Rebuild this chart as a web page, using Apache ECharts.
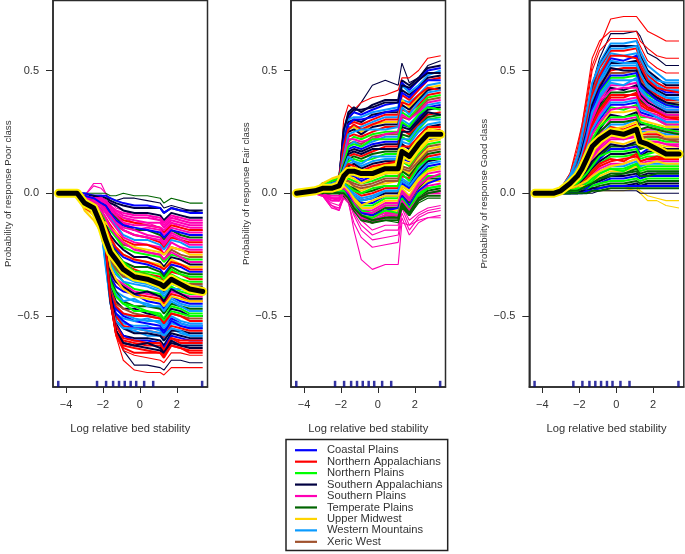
<!DOCTYPE html>
<html><head><meta charset="utf-8">
<script src="https://cdn.jsdelivr.net/npm/echarts@6/dist/echarts.min.js"></script>
<style>html,body{margin:0;background:#fff}#c{width:685px;height:554px;filter:blur(0.35px)}</style>
</head><body><div id="c"></div>
<script>
const regions=["Coastal Plains","Northern Appalachians","Northern Plains","Southern Appalachians","Southern Plains","Temperate Plains","Upper Midwest","Western Mountains","Xeric West"];
const regionColors=["#0000ff","#ff0000","#00ff00","#000040","#ff00b4","#006400","#ffd400","#0a9bff","#a0522d"];
const xGrid=[-4.4,-3.4,-3.0,-2.5,-2.1,-1.85,-1.6,-1.3,-0.9,-0.3,0.4,1.1,1.3,1.7,2.2,2.7,3.4];
const rugX=[-4.42,-2.32,-1.83,-1.45,-1.13,-0.82,-0.5,-0.2,0.23,0.72,3.37];
const yTicks=[-0.5,0,0.5];
const xTicks=[-4,-2,0,2];
const meanPoor=[0,0,-4,-6,-13,-19,-24,-27,-31,-34,-35,-37,-38,-35,-37,-39,-40];
const meanFair=[0,1,2,2,3,7,9,9,8,8,10,10,17,15,20,24,24];
const meanGood=[0,0,1,4,7,10,14,19,22,25,24,26,21,20,18,16,16];
// each row: region index, then value x100 at each xGrid point. First rows are drawn thin.
const poorThin=[
[1,0,0,-4,-6,-12,-22,-42,-58,-68,-72,-73,-73,-74,-71,-71,-71,-71],
[3,0,0,-4,-6,-11,-20,-38,-55,-64,-70,-70,-71,-72,-68,-68,-69,-69],
[1,0,0,-5,-7,-13,-24,-45,-58,-64,-66,-67,-68,-69,-65,-65,-66,-66],
[4,0,0,-1,4,4,0,-5,-8,-10,-12,-12,-14,-16,-12,-14,-15,-15],
[4,0,0,-1,3,2,0,-3,-6,-7,-9,-9,-11,-12,-9,-11,-12,-12],
[5,0,0,0,0,0,0,-1,-1,0,-1,-1,-2,-4,-2,-3,-4,-4],
[3,0,0,-1,-1,-1,-2,-2,-3,-2,-2,-3,-4,-6,-5,-6,-7,-8]
];
const poorMain=[
[3,0,0,-1,-1,-1,-2,-3,-4,-5,-6,-6,-6,-8,-6,-7,-7,-7],
[0,0,0,0,-1,-1,-1,-2,-3,-4,-5,-5,-6,-8,-6,-7,-8,-8],
[3,0,0,-1,-1,-2,-3,-4,-5,-7,-8,-8,-9,-11,-8,-9,-10,-10],
[4,0,0,-1,-2,-2,-3,-5,-7,-9,-10,-10,-11,-13,-10,-11,-12,-12],
[4,0,0,-1,-2,-3,-3,-6,-8,-10,-11,-12,-12,-14,-11,-12,-13,-13],
[1,0,0,-2,-2,-3,-4,-6,-9,-11,-12,-13,-14,-16,-13,-14,-15,-15],
[4,0,0,-1,-2,-3,-5,-7,-10,-12,-15,-14,-15,-17,-14,-15,-16,-16],
[5,0,0,-2,-3,-4,-5,-8,-10,-13,-15,-15,-17,-19,-15,-17,-18,-18],
[4,0,0,-2,-2,-4,-6,-9,-11,-14,-15,-17,-18,-20,-16,-18,-19,-19],
[1,0,0,-2,-3,-5,-7,-10,-13,-15,-17,-18,-20,-22,-18,-19,-20,-20],
[7,0,0,-3,-3,-5,-8,-10,-13,-17,-19,-19,-21,-23,-19,-20,-22,-22],
[4,0,0,-2,-4,-6,-8,-11,-14,-18,-20,-21,-22,-25,-20,-22,-23,-23],
[1,0,0,-3,-4,-7,-10,-13,-16,-19,-21,-21,-23,-25,-22,-23,-24,-24],
[8,0,0,-3,-4,-7,-11,-14,-17,-21,-22,-24,-25,-27,-23,-25,-26,-26],
[2,0,0,-3,-5,-8,-12,-15,-18,-22,-24,-25,-26,-28,-25,-26,-27,-27],
[3,0,0,-4,-5,-9,-13,-17,-20,-23,-26,-26,-28,-30,-26,-27,-29,-29],
[6,0,0,-6,-9,-14,-16,-19,-22,-25,-27,-28,-29,-31,-27,-29,-30,-30],
[0,0,0,-4,-6,-10,-15,-20,-23,-26,-28,-29,-31,-33,-29,-30,-32,-32],
[5,0,0,-5,-6,-11,-17,-21,-24,-28,-30,-30,-32,-34,-30,-32,-33,-33],
[1,0,0,-5,-7,-12,-18,-23,-26,-29,-31,-33,-34,-36,-32,-33,-35,-35],
[2,0,0,-4,-7,-13,-19,-25,-28,-31,-33,-33,-35,-37,-33,-35,-36,-36],
[3,0,0,-4,-6,-12,-20,-26,-30,-33,-35,-35,-38,-40,-35,-37,-38,-38],
[7,0,0,-4,-6,-14,-22,-28,-31,-34,-36,-37,-39,-41,-37,-38,-39,-39],
[2,0,0,-5,-7,-13,-23,-29,-32,-36,-39,-40,-41,-43,-38,-40,-41,-41],
[4,0,0,-4,-6,-14,-24,-31,-35,-37,-40,-41,-42,-44,-40,-41,-42,-42],
[1,0,0,-6,-8,-14,-25,-33,-36,-39,-41,-42,-43,-45,-41,-42,-44,-44],
[0,0,0,-4,-7,-15,-25,-34,-38,-40,-41,-44,-45,-47,-42,-44,-45,-45],
[7,0,0,-4,-7,-13,-26,-36,-40,-42,-44,-45,-47,-48,-43,-45,-46,-46],
[5,0,0,-5,-7,-14,-24,-35,-40,-44,-46,-46,-47,-49,-45,-46,-47,-47],
[2,0,0,-5,-6,-13,-26,-38,-42,-45,-46,-48,-49,-51,-46,-47,-49,-49],
[3,0,0,-4,-7,-14,-27,-38,-44,-47,-47,-49,-50,-52,-47,-48,-50,-50],
[8,0,0,-5,-8,-14,-26,-39,-45,-47,-49,-50,-51,-53,-49,-50,-51,-51],
[7,0,0,-5,-7,-13,-28,-40,-47,-49,-51,-52,-52,-54,-50,-52,-53,-53],
[0,0,0,-4,-6,-14,-24,-40,-47,-50,-52,-53,-54,-56,-51,-53,-54,-54],
[7,0,0,-4,-7,-15,-27,-42,-50,-53,-54,-54,-56,-58,-53,-54,-55,-55],
[1,0,0,-5,-7,-12,-24,-41,-50,-54,-55,-56,-57,-59,-54,-55,-56,-56],
[7,0,0,-5,-6,-14,-25,-44,-52,-55,-56,-58,-58,-60,-55,-57,-58,-58],
[3,0,0,-4,-7,-13,-24,-42,-53,-58,-59,-59,-60,-62,-57,-58,-59,-59],
[0,0,0,-4,-6,-12,-22,-43,-54,-58,-60,-60,-61,-63,-58,-59,-60,-60],
[1,0,0,-5,-7,-13,-24,-44,-56,-60,-61,-62,-62,-64,-59,-61,-61,-61],
[3,0,0,-4,-6,-12,-21,-42,-56,-61,-62,-63,-64,-66,-61,-62,-62,-62],
[1,0,0,-5,-6,-13,-23,-44,-57,-62,-63,-64,-65,-67,-62,-63,-64,-64],
// additional lines of the dense band
[4,0,0,-1,-2,-2,-4,-6,-7,-8,-9,-9,-10,-12,-9,-10,-11,-11],
[4,0,0,-2,-2,-3,-4,-6,-9,-12,-13,-13,-14,-15,-12,-13,-14,-14],
[0,0,0,-1,-2,-4,-5,-8,-11,-13,-14,-15,-16,-18,-15,-16,-17,-17],
[4,0,0,-3,-3,-5,-7,-9,-12,-15,-17,-18,-19,-21,-17,-19,-21,-21],
[6,0,0,-4,-7,-11,-12,-14,-16,-20,-22,-23,-24,-25,-22,-23,-25,-25],
[4,0,0,-2,-4,-7,-10,-14,-17,-20,-23,-24,-25,-27,-24,-26,-28,-28],
[1,0,0,-3,-5,-9,-14,-18,-22,-25,-27,-28,-30,-31,-28,-29,-31,-31],
[2,0,0,-4,-7,-12,-16,-22,-25,-28,-32,-32,-33,-35,-31,-33,-34,-34],
[8,0,0,-4,-6,-12,-21,-27,-31,-34,-34,-36,-37,-39,-34,-36,-37,-37],
[7,0,0,-5,-7,-14,-23,-29,-33,-36,-37,-38,-40,-42,-39,-39,-40,-40],
[3,0,0,-4,-6,-13,-23,-32,-36,-38,-41,-40,-42,-44,-39,-41,-43,-43],
[6,0,0,-7,-11,-16,-20,-30,-35,-39,-42,-43,-44,-46,-42,-43,-44,-44],
[7,0,0,-4,-6,-14,-27,-37,-41,-44,-43,-46,-46,-48,-44,-46,-48,-48],
[2,0,0,-5,-7,-15,-26,-36,-42,-45,-48,-48,-50,-52,-48,-49,-50,-50],
[1,0,0,-4,-7,-13,-25,-40,-46,-49,-50,-50,-51,-53,-49,-50,-52,-52],
[7,0,0,-5,-6,-14,-30,-44,-49,-51,-52,-51,-53,-55,-52,-53,-54,-54],
[0,0,0,-4,-7,-13,-24,-41,-49,-52,-55,-55,-55,-57,-52,-54,-55,-55],
[3,0,0,-5,-6,-13,-22,-41,-52,-55,-57,-57,-58,-60,-56,-56,-57,-57],
[7,0,0,-4,-6,-14,-29,-45,-52,-55,-55,-56,-57,-58,-55,-56,-58,-58],
[1,0,0,-4,-7,-12,-22,-43,-54,-59,-60,-61,-61,-64,-59,-60,-60,-60],
[3,0,0,-5,-7,-12,-22,-44,-56,-61,-62,-61,-63,-65,-60,-62,-63,-63],
[1,0,0,-5,-6,-12,-22,-43,-57,-63,-65,-65,-65,-66,-62,-63,-65,-65]
];
const fairThin=[
[4,0,0,-1,-6,-7,-1,-3,-15,-27,-31,-29,-29,-12,-13,-11,-10,-10],
[4,0,0,-1,-5,-6,-2,-4,-12,-18,-22,-21,-20,-10,-17,-12,-10,-9],
[4,0,0,-1,-4,-5,-1,-3,-9,-15,-19,-18,-17,-8,-15,-10,-8,-7],
[4,0,0,-1,-6,-6,-1,-2,-8,-13,-17,-15,-15,-6,-13,-9,-7,-6],
[4,0,0,-1,-5,-7,-2,-3,-7,-11,-15,-13,-13,-5,-11,-8,-6,-5],
[5,0,0,1,1,1,-1,-2,-5,-9,-12,-11,-12,-6,-9,-4,-2,-2],
[3,0,1,2,3,4,15,30,33,37,44,46,44,53,45,47,52,54],
[1,0,1,3,4,6,30,36,34,37,39,40,42,47,47,50,55,56]
];
const fairMain=[
[3,0,1,3,4,6,25,33,35,33,36,38,38,46,44,47,51,52],
[0,0,1,2,4,5,24,31,33,32,34,36,37,45,42,46,50,51],
[7,0,1,3,4,6,22,30,31,31,33,34,35,44,41,44,48,50],
[3,0,1,3,5,6,20,29,30,29,32,33,33,42,40,43,47,48],
[1,0,1,2,3,5,20,28,29,28,30,32,32,40,38,42,46,47],
[7,0,1,2,4,6,18,27,27,27,29,31,31,38,37,40,44,45],
[6,0,1,4,5,7,17,26,27,25,28,29,29,38,35,39,43,44],
[3,0,1,3,4,6,16,25,26,24,27,28,28,36,34,38,42,43],
[1,0,1,2,4,5,16,23,24,23,25,27,27,34,33,36,40,41],
[2,0,1,3,4,5,15,21,23,22,24,25,25,33,31,35,39,40],
[8,0,1,4,5,6,14,20,21,20,23,24,24,31,30,34,38,39],
[7,0,1,2,3,5,13,19,21,19,21,23,23,30,28,32,36,37],
[0,0,1,3,4,5,13,18,19,18,20,21,21,28,27,31,35,36],
[3,0,1,3,5,6,12,17,18,17,19,20,20,27,26,30,34,35],
[1,0,1,2,3,5,11,15,16,15,17,19,19,26,24,28,32,33],
[5,0,1,3,4,5,10,14,15,14,16,17,17,24,23,27,31,32],
[2,0,1,4,5,6,10,13,14,13,14,16,16,23,21,26,30,31],
[7,0,1,2,3,4,9,12,13,11,13,14,14,21,20,25,28,29],
[3,0,1,3,4,5,9,11,12,10,12,13,13,20,18,23,27,28],
[6,0,1,3,5,7,8,10,10,8,10,12,12,18,17,22,26,27],
[1,0,1,2,3,4,8,9,9,7,9,10,11,17,16,21,25,26],
[4,0,1,2,3,3,7,8,8,6,8,9,10,16,14,19,23,24],
[0,0,0,2,3,4,6,7,7,5,7,8,9,14,13,18,22,23],
[2,0,0,2,2,3,5,6,5,4,5,7,7,13,11,16,20,21],
[8,0,0,1,2,3,5,5,4,3,4,6,6,11,10,15,19,20],
[6,0,0,3,5,6,5,4,3,1,3,4,5,10,8,14,18,19],
[5,0,0,1,2,2,4,3,2,0,1,3,3,9,7,12,16,17],
[1,0,0,1,2,2,4,3,1,-1,0,2,2,7,6,11,15,16],
[7,0,0,2,3,3,4,2,0,-2,-1,1,1,6,4,10,14,15],
[3,0,0,1,1,2,3,1,-1,-3,-2,0,0,5,3,9,13,14],
[0,0,0,1,1,2,3,1,-2,-4,-4,-1,-1,4,2,7,11,12],
[2,0,0,1,2,2,2,0,-2,-5,-5,-2,-2,3,1,6,10,11],
[6,0,0,2,3,4,2,0,-3,-6,-6,-3,-3,2,-1,5,9,10],
[4,0,0,0,-1,-1,2,-1,-4,-7,-7,-4,-4,1,-2,4,8,9],
[2,0,0,1,1,1,1,-1,-4,-7,-8,-5,-5,0,-3,3,7,7],
[5,0,0,0,1,1,1,-2,-5,-8,-9,-6,-6,-1,-4,2,6,6],
[6,0,0,1,2,2,1,-2,-5,-9,-10,-7,-7,-2,-5,1,5,5],
[4,0,0,0,-2,-2,0,-2,-6,-9,-10,-8,-8,-2,-6,0,3,4],
[2,0,0,0,1,0,0,-2,-6,-10,-11,-9,-9,-3,-7,-1,2,3],
[5,0,0,0,0,0,0,-3,-7,-11,-12,-9,-10,-3,-8,-2,1,2],
[4,0,0,-1,-3,-3,0,-3,-6,-10,-12,-10,-10,-4,-8,-3,0,1],
[5,0,0,0,0,0,-1,-3,-6,-10,-12,-11,-11,-5,-9,-3,-1,-1],
// additional lines of the dense band
[3,0,1,2,3,5,26,32,34,34,35,37,37,44,43,46,49,49],
[0,0,1,3,4,5,21,28,30,30,31,33,34,41,39,43,46,46],
[1,0,1,2,4,6,19,26,28,26,28,30,30,37,36,40,43,42],
[7,0,1,3,4,5,15,24,25,26,26,26,27,35,32,37,41,42],
[4,0,1,2,3,4,13,22,22,21,22,24,25,32,30,33,37,38],
[2,0,1,3,5,6,12,19,20,19,22,22,22,29,27,32,35,34],
[3,0,1,2,4,5,11,16,17,16,18,18,18,25,25,29,33,32],
[7,0,1,3,4,5,10,15,13,12,15,15,15,22,22,27,30,30],
[1,0,1,2,3,5,9,12,11,9,11,12,13,19,19,23,27,27],
[0,0,1,2,3,4,7,9,8,6,9,10,10,15,15,20,23,25],
[6,0,1,4,6,7,6,7,6,4,6,8,8,13,12,17,21,22],
[8,0,0,2,3,3,5,5,3,2,3,5,5,10,9,13,17,18],
[2,0,0,2,2,3,4,3,1,0,2,3,3,8,5,11,14,14],
[7,0,0,1,2,3,4,2,-1,-3,-2,1,1,5,3,8,12,13],
[6,0,0,2,3,4,3,1,-2,-5,-3,-1,-1,3,1,6,9,11],
[4,0,0,0,-2,-2,2,0,-4,-8,-8,-5,-5,0,-3,3,6,8],
[0,0,0,1,1,1,1,-1,-5,-8,-9,-7,-6,-1,-5,1,4,6],
[2,0,0,1,1,1,1,-2,-5,-9,-10,-7,-8,-2,-6,0,2,3],
[4,0,0,-1,-2,-3,0,-3,-6,-10,-11,-9,-9,-3,-7,-2,0,0],
[5,0,0,0,1,0,0,-2,-6,-9,-11,-10,-10,-4,-8,-2,0,1]
];
const goodThin=[
[1,0,0,2,8,20,28,38,52,60,71,72,72,70,66,64,62,62],
[3,0,0,1,6,14,24,32,44,55,65,65,66,64,57,55,52,52],
[1,0,0,2,8,18,28,40,55,62,66,66,66,62,59,56,55,55],
[1,0,0,2,7,16,26,36,50,58,63,63,63,60,54,51,49,49],
[6,0,0,0,0,0,0,0,1,1,1,1,2,0,-3,-3,-5,-6],
[6,0,0,0,0,0,0,0,1,1,2,2,3,1,-1,-2,-3,-3],
[3,0,0,0,0,0,0,0,0,1,1,1,1,0,0,0,0,0]
];
const goodMain=[
[7,0,0,1,6,14,23,32,44,53,61,61,62,58,52,49,46,46],
[3,0,0,1,6,13,22,31,43,52,60,60,60,56,50,47,44,44],
[1,0,0,2,6,12,21,30,41,51,58,58,59,54,48,45,43,43],
[7,0,0,2,7,13,22,30,40,49,57,56,57,52,47,44,42,42],
[0,0,0,1,6,12,20,28,39,47,55,54,56,51,46,43,41,41],
[3,0,0,1,5,11,18,27,39,46,53,53,54,50,45,42,40,40],
[7,0,0,2,6,12,19,27,37,45,52,52,52,48,44,41,39,39],
[1,0,0,2,5,10,17,25,36,44,50,51,51,47,43,40,38,38],
[8,0,0,1,5,10,17,24,35,42,49,49,50,46,41,39,37,37],
[2,0,0,1,5,11,16,23,33,41,47,47,48,44,40,38,36,36],
[7,0,0,1,6,10,16,22,32,40,46,46,46,43,39,37,35,35],
[4,0,0,1,4,9,14,22,31,38,44,44,45,41,38,36,34,34],
[3,0,0,1,5,9,15,21,29,36,43,42,44,40,37,35,33,33],
[5,0,0,1,4,8,13,20,28,35,41,41,42,38,35,34,32,32],
[1,0,0,1,5,9,13,19,27,33,39,39,41,36,34,33,31,31],
[4,0,0,1,4,8,12,18,26,32,38,38,39,35,33,32,30,30],
[0,0,0,1,4,8,12,17,25,30,36,36,37,33,32,31,29,29],
[2,0,0,1,5,8,11,16,24,28,35,34,36,31,31,30,28,28],
[6,0,0,2,6,9,12,16,22,27,33,33,34,30,29,28,27,27],
[3,0,0,1,4,7,10,15,21,26,32,31,33,28,28,27,26,26],
[4,0,0,1,4,7,10,14,20,24,30,30,31,26,26,26,25,25],
[7,0,0,1,3,6,9,13,19,23,28,28,30,25,25,25,24,24],
[1,0,0,1,4,6,9,12,17,22,27,26,28,24,24,24,23,23],
[8,0,0,1,3,5,8,11,16,21,25,25,26,22,23,23,22,22],
[2,0,0,1,3,5,7,10,15,19,24,23,25,21,22,22,21,21],
[4,0,0,1,3,5,7,9,14,18,22,22,24,20,21,21,20,20],
[6,0,0,2,4,5,7,9,13,17,21,20,22,18,20,20,19,19],
[5,0,0,1,2,4,6,8,12,15,19,19,20,18,19,19,18,18],
[0,0,0,0,2,4,5,7,11,14,18,18,19,16,18,18,17,17],
[3,0,0,0,2,3,5,7,10,13,16,16,17,15,17,17,16,16],
[2,0,0,1,2,3,4,6,9,12,15,15,16,14,15,15,15,15],
[1,0,0,0,2,3,4,5,8,11,13,14,15,13,14,14,14,14],
[4,0,0,0,1,2,3,5,7,10,12,12,14,12,13,13,13,13],
[7,0,0,0,1,2,3,4,6,9,11,11,13,11,12,12,12,12],
[2,0,0,0,1,2,3,4,6,8,10,10,12,10,11,11,11,11],
[6,0,0,1,2,2,3,3,5,7,9,9,11,9,10,10,10,10],
[5,0,0,0,1,1,2,3,4,6,8,8,10,8,9,9,9,9],
[3,0,0,0,1,1,2,2,4,5,7,7,8,7,8,8,8,8],
[0,0,0,0,0,1,1,2,3,4,6,6,7,6,7,7,7,7],
[2,0,0,0,0,1,1,1,3,4,5,5,6,5,6,6,6,6],
[5,0,0,0,0,0,1,1,2,3,4,4,5,4,5,5,5,5],
[3,0,0,0,0,0,1,1,2,2,3,3,4,3,4,4,4,4],
[0,0,0,0,0,0,0,1,1,2,3,3,3,3,3,3,3,3],
[5,0,0,0,0,0,0,0,1,1,2,2,2,2,2,2,2,2],
// additional lines of the dense band
[7,0,0,2,7,15,24,33,45,52,59,59,60,55,49,46,45,45],
[1,0,0,1,5,12,19,29,40,48,56,56,55,52,46,43,42,41],
[7,0,0,2,6,11,19,26,38,46,54,53,53,49,43,41,39,38],
[3,0,0,1,5,11,18,25,36,43,51,50,50,45,42,39,37,36],
[0,0,0,1,5,10,16,24,34,42,48,48,49,44,41,38,36,35],
[7,0,0,2,6,11,16,23,33,39,45,44,47,42,39,36,34,34],
[4,0,0,1,4,8,14,21,30,37,42,43,43,39,36,34,32,32],
[1,0,0,2,5,9,14,20,28,34,40,40,40,37,35,33,31,30],
[7,0,0,1,4,8,13,18,26,31,37,37,38,34,33,31,29,29],
[4,0,0,1,4,7,11,17,24,29,34,35,35,32,31,30,28,28],
[2,0,0,1,4,7,11,15,22,27,31,31,32,29,28,27,26,25],
[5,0,0,1,3,6,10,14,19,25,29,29,30,26,27,26,25,24],
[6,0,0,2,4,6,9,13,18,23,26,27,29,24,25,25,23,23],
[8,0,0,1,3,6,9,12,17,20,24,24,27,23,23,23,22,21],
[4,0,0,1,3,5,7,11,15,19,23,22,23,21,21,21,20,19],
[3,0,0,1,2,4,6,9,13,16,20,19,21,19,19,19,18,18],
[2,0,0,1,2,4,6,8,11,15,17,17,18,15,16,17,16,16],
[1,0,0,0,2,3,4,6,9,12,14,13,16,13,14,15,14,14],
[6,0,0,1,2,3,4,5,7,9,11,12,14,12,12,13,12,12],
[2,0,0,0,1,2,2,3,5,8,10,9,12,9,10,10,10,10],
[5,0,0,0,1,1,2,3,4,6,7,8,9,7,7,8,8,8]
];
const panelLefts=[53,291,529.3];
const panels=[
 {title:"Probability of response Poor class",thin:poorThin,main:poorMain,mean:meanPoor},
 {title:"Probability of response Fair class",thin:fairThin,main:fairMain,mean:meanFair},
 {title:"Probability of response Good class",thin:goodThin,main:goodMain,mean:meanGood}
];
const ink="#2b2b2b",textCol="#333";
const toPts=row=>xGrid.map((x,i)=>[x,row[i]/100]);
const grids=[],xAxes=[],yAxes=[],series=[];
panels.forEach((p,k)=>{
 grids.push({left:panelLefts[k],top:0.5,width:154.5,height:386.5,show:true,borderColor:ink,borderWidth:1.5,backgroundColor:"transparent",containLabel:false});
 xAxes.push({gridIndex:k,type:"value",min:-4.705,max:3.66,
  name:"Log relative bed stability",nameLocation:"middle",nameGap:36,nameTextStyle:{fontFamily:"Liberation Sans",fontSize:11.2,color:textCol},
  splitLine:{show:false},axisLine:{show:true,onZero:false,lineStyle:{color:ink,width:1.5}},
  axisTick:{show:true,length:6,customValues:xTicks,lineStyle:{color:ink,width:1}},
  axisLabel:{customValues:xTicks,margin:12,fontFamily:"Liberation Sans",fontSize:11,color:textCol,formatter:v=>String(v).replace("-","\u2212")}});
 yAxes.push({gridIndex:k,type:"value",min:-0.789,max:0.785,
  name:panels[k].title,nameLocation:"middle",nameGap:40,nameRotate:90,nameTextStyle:{fontFamily:"Liberation Sans",fontSize:9.7,color:textCol},
  splitLine:{show:false},axisLine:{show:true,onZero:false,lineStyle:{color:ink,width:1.5}},
  axisTick:{show:true,length:7,customValues:yTicks,lineStyle:{color:ink,width:1}},
  axisLabel:{customValues:yTicks,margin:14,fontFamily:"Liberation Sans",fontSize:11,color:textCol,formatter:v=>v===0?"0.0":String(v).replace("-","\u2212")}});
 const add=(row,w)=>series.push({type:"line",name:regions[row[0]],xAxisIndex:k,yAxisIndex:k,data:toPts(row.slice(1)),symbol:"none",silent:true,animation:false,clip:true,
   lineStyle:{color:regionColors[row[0]],width:w},itemStyle:{color:regionColors[row[0]]}});
 p.thin.forEach(r=>add(r,1.1));
 p.main.forEach(r=>add(r,2));
 series.push({type:"line",name:"mean halo",xAxisIndex:k,yAxisIndex:k,data:toPts(p.mean),symbol:"none",silent:true,animation:false,z:5,lineStyle:{color:"#ffee00",width:9,cap:"round",join:"round"}});
 series.push({type:"line",name:"mean",xAxisIndex:k,yAxisIndex:k,data:toPts(p.mean),symbol:"none",silent:true,animation:false,z:6,lineStyle:{color:"#000",width:5,cap:"round",join:"round"}});
 series.push({type:"scatter",name:"rug",xAxisIndex:k,yAxisIndex:k,data:rugX.map(x=>[x,-0.776]),symbol:"rect",symbolSize:[2.5,6],silent:true,animation:false,z:7,itemStyle:{color:"#00008b"}});
});
const chart=echarts.init(document.getElementById("c"),null,{renderer:"canvas"});
chart.setOption({animation:false,backgroundColor:"#fff",grid:grids,xAxis:xAxes,yAxis:yAxes,series,tooltip:{show:false},
 legend:{data:regions,orient:"vertical",left:286,top:439.5,width:163,padding:[5,5,3,9],itemGap:0,itemWidth:22,itemHeight:11.45,selectedMode:false,icon:"path://M0 45H100V55H0Z",
  borderColor:"#222",borderWidth:1.5,backgroundColor:"#fff",
  textStyle:{fontFamily:"Liberation Sans",fontSize:11.2,color:textCol,padding:[0,0,0,5],lineHeight:11.45}}
});
</script></body></html>
